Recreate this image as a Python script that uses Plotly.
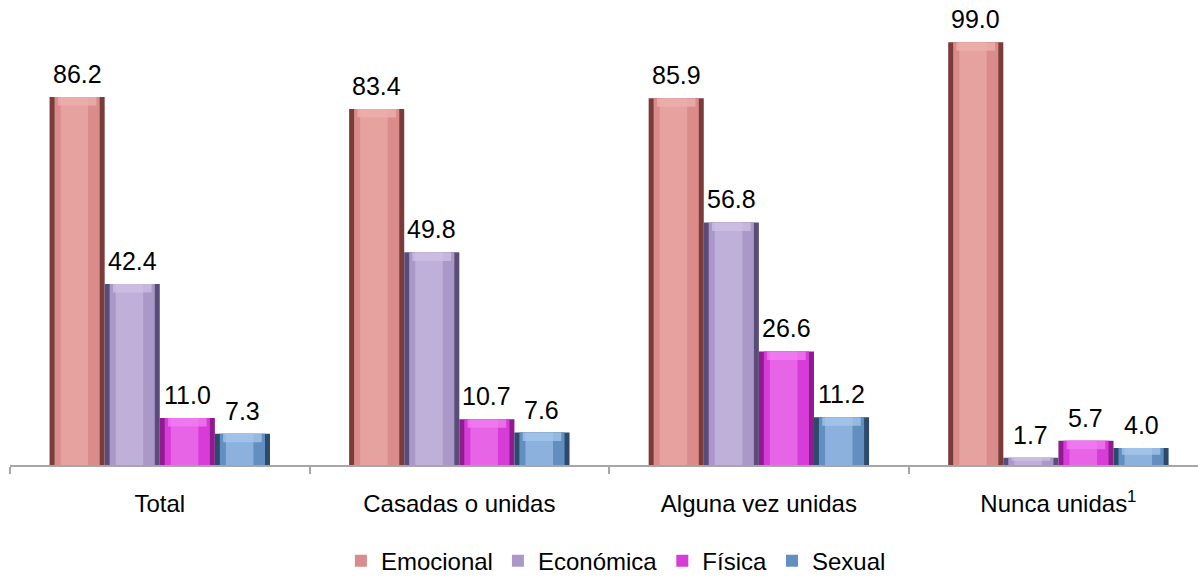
import plotly.graph_objects as go

categories = ["Total", "Casadas o unidas", "Alguna vez unidas", "Nunca unidas<sup>1</sup>"]
series_names = ["Emocional", "Económica", "Física", "Sexual"]
emocional = [86.2, 83.4, 85.9, 99.0]
economica = [42.4, 49.8, 56.8, 1.7]
fisica = [11.0, 10.7, 26.6, 5.7]
sexual = [7.3, 7.6, 11.2, 4.0]
values = [emocional, economica, fisica, sexual]

edge_colors = ["#7A3B3B", "#5A4C78", "#8E1C8E", "#2C4A6C"]
main_colors = ["#D98C8A", "#AA98C8", "#D83CD8", "#628EC0"]
light_colors = ["#EDB0AE", "#CDC0E4", "#F27EF2", "#A6C8EE"]

x = list(range(len(categories)))
w = 55 / 299  # bar width in category units
FONT = "Liberation Sans, Arial"

fig = go.Figure()
for i, name in enumerate(series_names):
    off = (i - 2) * w
    vals = values[i]
    # dark edge
    fig.add_trace(go.Bar(x=x, y=vals, width=w, offset=off,
                         marker=dict(color=edge_colors[i], line=dict(width=0)),
                         showlegend=False, legendgroup=name, hoverinfo="skip"))
    # main body
    w2 = w * 0.82
    fig.add_trace(go.Bar(x=x, y=vals, width=w2, offset=off + (w - w2) / 2,
                         marker=dict(color=main_colors[i], line=dict(width=0)),
                         name=name, legendgroup=name, showlegend=True))
    # highlight
    w3 = w * 0.5
    fig.add_trace(go.Bar(x=x, y=vals, width=w3, offset=off + w * 0.2,
                         marker=dict(color=light_colors[i], opacity=0.6, line=dict(width=0)),
                         showlegend=False, legendgroup=name, hoverinfo="skip"))
    # top bevel
    caps = [min(2.0, v * 0.4) for v in vals]
    w4 = w * 0.7
    fig.add_trace(go.Bar(x=x, y=caps, base=[v - c for v, c in zip(vals, caps)],
                         width=w4, offset=off + (w - w4) / 2,
                         marker=dict(color=light_colors[i], opacity=0.75, line=dict(width=0)),
                         showlegend=False, legendgroup=name, hoverinfo="skip"))

annotations = []
for i in range(len(series_names)):
    for j, v in enumerate(values[i]):
        annotations.append(dict(x=j + (i - 2) * w + w / 2, y=v, text=f"{v:.1f}",
                                showarrow=False, yanchor="bottom", yshift=7,
                                font=dict(size=25, color="black", family=FONT)))

fig.update_layout(
    barmode="overlay",
    width=1198, height=578,
    margin=dict(l=10, r=0, t=38, b=113, autoexpand=False),
    plot_bgcolor="white", paper_bgcolor="white",
    font=dict(family=FONT, size=24, color="black"),
    annotations=annotations,
    legend=dict(orientation="h", x=0.51, xanchor="center", y=-0.225, yanchor="middle",
                font=dict(size=24), itemwidth=30, tracegroupgap=0),
    xaxis=dict(range=[-0.5, 3.466], tickmode="array", tickvals=x, ticktext=categories,
               ticks="", showline=True, linecolor="#A6A6A6", linewidth=2, automargin=False,
               showgrid=False, zeroline=False, ticklabelstandoff=16,
               tickfont=dict(size=24),
               minor=dict(tickmode="array", tickvals=[-0.5, 0.5, 1.5, 2.5], ticks="outside",
                          ticklen=7, tickwidth=2, tickcolor="#A6A6A6", showgrid=False)),
    yaxis=dict(range=[0, 100], visible=False, showgrid=False, zeroline=False, automargin=False),
)

fig.write_html("out.html", config={"displayModeBar": False},
               post_script="document.body.style.margin='0';document.body.style.overflow='hidden';")
